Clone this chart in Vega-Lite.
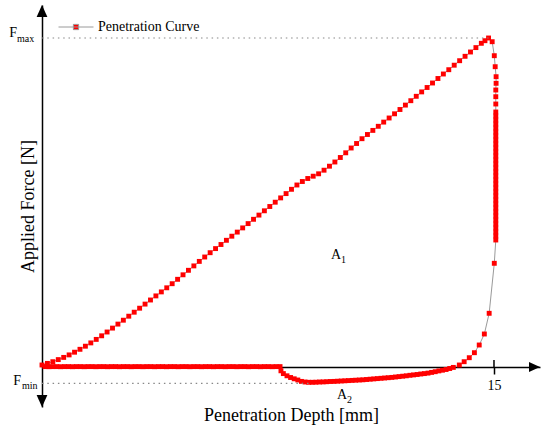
{
  "$schema": "https://vega.github.io/schema/vega-lite/v6.json",
  "width": 498,
  "height": 402,
  "autosize": {"type": "none"},
  "padding": {"left": 42, "top": 5, "right": 10, "bottom": 28},
  "background": "white",
  "config": {
    "view": {"stroke": null},
    "font": "Liberation Serif",
    "axis": {
      "grid": false, "domainColor": "black", "domainWidth": 1.5,
      "labelFont": "Liberation Serif", "titleFont": "Liberation Serif",
      "titleFontWeight": "normal", "titleColor": "black", "labelColor": "black", "zindex": 1
    },
    "legend": {
      "orient": "none", "legendX": 16, "legendY": 4, "padding": 0,
      "symbolType": "M-1,0L1,0M-0.15,-0.15L0.15,-0.15L0.15,0.15L-0.15,0.15Z",
      "symbolSize": 1225, "symbolStrokeColor": "#9a9a9a", "symbolStrokeWidth": 1,
      "labelFont": "Liberation Serif", "labelFontSize": 14, "labelColor": "black", "labelOffset": 4
    }
  },
  "datasets": {
    "curve": [
      {"x":0.00,"y":2.0},{"x":0.18,"y":3.6},{"x":0.36,"y":5.3},{"x":0.54,"y":7.4},{"x":0.72,"y":9.6},
      {"x":0.90,"y":12.1},{"x":1.08,"y":14.8},{"x":1.26,"y":17.7},{"x":1.44,"y":20.8},{"x":1.62,"y":24.1},
      {"x":1.80,"y":27.6},{"x":1.98,"y":31.2},{"x":2.16,"y":35.0},{"x":2.34,"y":38.9},{"x":2.52,"y":42.9},
      {"x":2.70,"y":46.8},{"x":2.88,"y":50.8},{"x":3.06,"y":54.8},{"x":3.24,"y":58.8},{"x":3.42,"y":62.9},
      {"x":3.60,"y":67.0},{"x":3.78,"y":71.1},{"x":3.96,"y":75.1},{"x":4.14,"y":79.2},{"x":4.32,"y":83.3},
      {"x":4.50,"y":87.7},{"x":4.68,"y":92.2},{"x":4.86,"y":96.7},{"x":5.04,"y":101.1},{"x":5.22,"y":105.6},
      {"x":5.40,"y":110.0},{"x":5.58,"y":114.3},{"x":5.76,"y":118.4},{"x":5.94,"y":122.5},{"x":6.12,"y":126.7},
      {"x":6.30,"y":130.8},{"x":6.48,"y":134.9},{"x":6.66,"y":139.1},{"x":6.84,"y":143.4},{"x":7.02,"y":147.7},
      {"x":7.20,"y":151.9},{"x":7.38,"y":156.2},{"x":7.56,"y":160.5},{"x":7.74,"y":164.8},{"x":7.92,"y":169.1},
      {"x":8.10,"y":173.4},{"x":8.28,"y":177.7},{"x":8.46,"y":182.0},{"x":8.64,"y":185.5},{"x":8.82,"y":188.5},
      {"x":9.00,"y":190.8},{"x":9.18,"y":193.2},{"x":9.36,"y":196.8},{"x":9.54,"y":200.8},{"x":9.72,"y":205.0},
      {"x":9.90,"y":209.5},{"x":10.08,"y":214.2},{"x":10.26,"y":219.0},{"x":10.44,"y":223.5},{"x":10.62,"y":228.3},
      {"x":10.80,"y":232.5},{"x":10.98,"y":236.6},{"x":11.16,"y":240.7},{"x":11.34,"y":244.9},{"x":11.52,"y":249.0},
      {"x":11.70,"y":253.2},{"x":11.88,"y":257.5},{"x":12.06,"y":261.9},{"x":12.24,"y":266.3},{"x":12.42,"y":270.7},
      {"x":12.60,"y":275.1},{"x":12.78,"y":279.5},{"x":12.96,"y":284.0},{"x":13.14,"y":288.5},{"x":13.32,"y":293.0},
      {"x":13.50,"y":297.3},{"x":13.68,"y":301.8},{"x":13.86,"y":306.3},{"x":14.04,"y":310.7},{"x":14.22,"y":315.0},
      {"x":14.40,"y":319.4},{"x":14.58,"y":323.7},{"x":14.70,"y":326.3},{"x":14.82,"y":329.0},
      {"x":14.94,"y":325.3},{"x":15.01,"y":311.3},{"x":15.04,"y":300.3},{"x":15.07,"y":290.3},{"x":15.07,"y":283.7},
      {"x":15.06,"y":277.0},{"x":15.06,"y":270.3},{"x":15.06,"y":263.0},
      {"x":15.06,"y":255},{"x":15.06,"y":251},{"x":15.06,"y":247},{"x":15.06,"y":243},{"x":15.06,"y":239},
      {"x":15.06,"y":235},{"x":15.06,"y":231},{"x":15.06,"y":227},{"x":15.06,"y":223},{"x":15.06,"y":219},
      {"x":15.06,"y":215},{"x":15.06,"y":211},{"x":15.06,"y":207},{"x":15.06,"y":203},{"x":15.06,"y":199},
      {"x":15.06,"y":195},{"x":15.06,"y":191},{"x":15.06,"y":187},{"x":15.06,"y":183},{"x":15.06,"y":179},
      {"x":15.06,"y":175},{"x":15.06,"y":171},{"x":15.06,"y":167},{"x":15.06,"y":163},{"x":15.06,"y":159},
      {"x":15.06,"y":155},{"x":15.06,"y":151},{"x":15.06,"y":147},{"x":15.06,"y":143},{"x":15.06,"y":139},
      {"x":15.06,"y":135},{"x":15.06,"y":131},{"x":15.06,"y":127},
      {"x":15.01,"y":103.7},{"x":14.84,"y":53.7},{"x":14.68,"y":33.0},{"x":14.51,"y":22.0},{"x":14.35,"y":14.3},
      {"x":14.18,"y":9.3},{"x":14.01,"y":5.3},{"x":13.85,"y":2.0},
      {"x":13.65,"y":-0.4},{"x":13.53,"y":-1.5},{"x":13.41,"y":-2.5},{"x":13.29,"y":-3.2},{"x":13.17,"y":-3.9},
      {"x":13.05,"y":-4.7},{"x":12.93,"y":-5.4},{"x":12.81,"y":-6.1},{"x":12.69,"y":-6.6},{"x":12.57,"y":-7.0},
      {"x":12.45,"y":-7.5},{"x":12.33,"y":-7.9},{"x":12.21,"y":-8.3},{"x":12.09,"y":-8.8},{"x":11.97,"y":-9.2},
      {"x":11.85,"y":-9.6},{"x":11.73,"y":-10.0},{"x":11.61,"y":-10.4},{"x":11.49,"y":-10.7},{"x":11.37,"y":-11.0},
      {"x":11.25,"y":-11.3},{"x":11.13,"y":-11.6},{"x":11.01,"y":-11.9},{"x":10.89,"y":-12.2},{"x":10.77,"y":-12.5},
      {"x":10.65,"y":-12.8},{"x":10.53,"y":-13.0},{"x":10.41,"y":-13.2},{"x":10.29,"y":-13.4},{"x":10.17,"y":-13.6},
      {"x":10.05,"y":-13.8},{"x":9.93,"y":-14.0},{"x":9.81,"y":-14.2},{"x":9.69,"y":-14.4},{"x":9.57,"y":-14.5},
      {"x":9.45,"y":-14.7},{"x":9.33,"y":-14.9},{"x":9.21,"y":-15.0},{"x":9.09,"y":-15.2},{"x":8.97,"y":-15.3},
      {"x":8.85,"y":-15.3},{"x":8.73,"y":-15.0},{"x":8.61,"y":-14.4},{"x":8.49,"y":-13.0},{"x":8.37,"y":-11.8},
      {"x":8.25,"y":-10.5},{"x":8.13,"y":-8.8},{"x":8.01,"y":-6.6},{"x":7.93,"y":-3.8},
      {"x":7.90,"y":0.4},{"x":7.77,"y":0.4},{"x":7.64,"y":0.3},{"x":7.51,"y":0.4},{"x":7.38,"y":0.4},
      {"x":7.25,"y":0.3},{"x":7.12,"y":0.4},{"x":6.99,"y":0.4},{"x":6.86,"y":0.3},{"x":6.73,"y":0.4},
      {"x":6.60,"y":0.4},{"x":6.47,"y":0.3},{"x":6.34,"y":0.4},{"x":6.21,"y":0.4},{"x":6.08,"y":0.3},
      {"x":5.95,"y":0.4},{"x":5.82,"y":0.4},{"x":5.69,"y":0.3},{"x":5.56,"y":0.4},{"x":5.43,"y":0.4},
      {"x":5.30,"y":0.3},{"x":5.17,"y":0.4},{"x":5.04,"y":0.4},{"x":4.91,"y":0.3},{"x":4.78,"y":0.4},
      {"x":4.65,"y":0.4},{"x":4.52,"y":0.3},{"x":4.39,"y":0.4},{"x":4.26,"y":0.4},{"x":4.13,"y":0.3},
      {"x":4.00,"y":0.4},{"x":3.87,"y":0.4},{"x":3.74,"y":0.3},{"x":3.61,"y":0.4},{"x":3.48,"y":0.4},
      {"x":3.35,"y":0.3},{"x":3.22,"y":0.4},{"x":3.09,"y":0.4},{"x":2.96,"y":0.3},{"x":2.83,"y":0.4},
      {"x":2.70,"y":0.4},{"x":2.57,"y":0.3},{"x":2.44,"y":0.4},{"x":2.31,"y":0.4},{"x":2.18,"y":0.3},
      {"x":2.05,"y":0.4},{"x":1.92,"y":0.4},{"x":1.79,"y":0.3},{"x":1.66,"y":0.4},{"x":1.53,"y":0.4},
      {"x":1.40,"y":0.3},{"x":1.27,"y":0.4},{"x":1.14,"y":0.4},{"x":1.01,"y":0.3},{"x":0.88,"y":0.4},
      {"x":0.75,"y":0.4},{"x":0.62,"y":0.3},{"x":0.49,"y":0.4},{"x":0.36,"y":0.4},{"x":0.23,"y":0.3},
      {"x":0.10,"y":0.4}
    ],
    "areas": [
      {"name": "A", "sub": "1", "x": 9.76, "y": 112},
      {"name": "A", "sub": "2", "x": 9.96, "y": -28}
    ],
    "one": [{}]
  },
  "layer": [
    {
      "data": {"name": "curve"},
      "mark": {"type": "line", "stroke": "#9a9a9a", "strokeWidth": 1},
      "encoding": {
        "x": {
          "field": "x", "type": "quantitative",
          "scale": {"domain": [0, 16.527], "nice": false, "zero": false},
          "axis": {
            "orient": "bottom", "offset": -40, "values": [15], "title": "Penetration Depth [mm]",
            "ticks": true, "tickSize": 7, "tickWidth": 1.5, "tickColor": "black",
            "labelFontSize": 14, "labelPadding": 4, "titleFontSize": 18, "titlePadding": 14
          }
        },
        "y": {
          "field": "y", "type": "quantitative",
          "scale": {"domain": [-40, 362], "nice": false, "zero": false},
          "axis": {
            "orient": "left", "values": [], "ticks": false, "labels": false,
            "title": "Applied Force [N]", "titleFontSize": 18, "titlePadding": 5
          }
        },
        "order": {"value": null}
      }
    },
    {
      "data": {"name": "curve"},
      "mark": {"type": "point", "shape": "square", "filled": true, "size": 24, "opacity": 1},
      "encoding": {
        "x": {"field": "x", "type": "quantitative"},
        "y": {"field": "y", "type": "quantitative"},
        "fill": {
          "datum": "Penetration Curve", "type": "nominal",
          "scale": {"range": ["#ff0000"]},
          "legend": {"title": null}
        }
      }
    },
    {
      "data": {"name": "one"},
      "mark": {"type": "rule", "stroke": "#888888", "strokeWidth": 1.2, "strokeDash": [1.5, 3.8]},
      "encoding": {
        "x": {"datum": 0, "type": "quantitative"},
        "x2": {"datum": 14.82},
        "y": {"datum": 329, "type": "quantitative"}
      }
    },
    {
      "data": {"name": "one"},
      "mark": {"type": "rule", "stroke": "#888888", "strokeWidth": 1.2, "strokeDash": [1.5, 3.8]},
      "encoding": {
        "x": {"datum": 0, "type": "quantitative"},
        "x2": {"datum": 8.9},
        "y": {"datum": -16.3, "type": "quantitative"}
      }
    },
    {
      "data": {"name": "one"},
      "mark": {"type": "rule", "stroke": "black", "strokeWidth": 1.5},
      "encoding": {
        "x": {"datum": 15, "type": "quantitative"},
        "y": {"datum": 0, "type": "quantitative"},
        "y2": {"datum": 7}
      }
    },
    {
      "data": {"name": "one"},
      "mark": {"type": "point", "shape": "M0,-1L0.9,1L-0.9,1Z", "size": 144, "filled": true, "fill": "black", "opacity": 1},
      "encoding": {
        "x": {"datum": 0, "type": "quantitative"},
        "y": {"datum": 356, "type": "quantitative"}
      }
    },
    {
      "data": {"name": "one"},
      "mark": {"type": "point", "shape": "M0,1L0.9,-1L-0.9,-1Z", "size": 144, "filled": true, "fill": "black", "opacity": 1},
      "encoding": {
        "x": {"datum": 0, "type": "quantitative"},
        "y": {"datum": -34, "type": "quantitative"}
      }
    },
    {
      "data": {"name": "one"},
      "mark": {"type": "point", "shape": "M1,0L-1,-0.9L-1,0.9Z", "size": 121, "filled": true, "fill": "black", "opacity": 1},
      "encoding": {
        "x": {"datum": 16.344, "type": "quantitative"},
        "y": {"datum": 0, "type": "quantitative"}
      }
    },
    {
      "data": {"name": "one"},
      "mark": {"type": "text", "text": "F", "fontSize": 14, "align": "right", "baseline": "alphabetic", "dx": -25, "dy": -1, "color": "black"},
      "encoding": {
        "x": {"datum": 0, "type": "quantitative"},
        "y": {"datum": 329, "type": "quantitative"}
      }
    },
    {
      "data": {"name": "one"},
      "mark": {"type": "text", "text": "max", "fontSize": 10, "align": "left", "baseline": "alphabetic", "dx": -25, "dy": 4, "color": "black"},
      "encoding": {
        "x": {"datum": 0, "type": "quantitative"},
        "y": {"datum": 329, "type": "quantitative"}
      }
    },
    {
      "data": {"name": "one"},
      "mark": {"type": "text", "text": "F", "fontSize": 14, "align": "right", "baseline": "alphabetic", "dx": -21, "dy": 2, "color": "black"},
      "encoding": {
        "x": {"datum": 0, "type": "quantitative"},
        "y": {"datum": -16.3, "type": "quantitative"}
      }
    },
    {
      "data": {"name": "one"},
      "mark": {"type": "text", "text": "min", "fontSize": 10, "align": "left", "baseline": "alphabetic", "dx": -20, "dy": 6, "color": "black"},
      "encoding": {
        "x": {"datum": 0, "type": "quantitative"},
        "y": {"datum": -16.3, "type": "quantitative"}
      }
    },
    {
      "data": {"name": "areas"},
      "mark": {"type": "text", "fontSize": 14, "align": "center", "baseline": "middle", "color": "black"},
      "encoding": {
        "x": {"field": "x", "type": "quantitative"},
        "y": {"field": "y", "type": "quantitative"},
        "text": {"field": "name"}
      }
    },
    {
      "data": {"name": "areas"},
      "mark": {"type": "text", "fontSize": 10, "align": "left", "baseline": "middle", "dx": 5, "dy": 5, "color": "black"},
      "encoding": {
        "x": {"field": "x", "type": "quantitative"},
        "y": {"field": "y", "type": "quantitative"},
        "text": {"field": "sub"}
      }
    }
  ]
}
